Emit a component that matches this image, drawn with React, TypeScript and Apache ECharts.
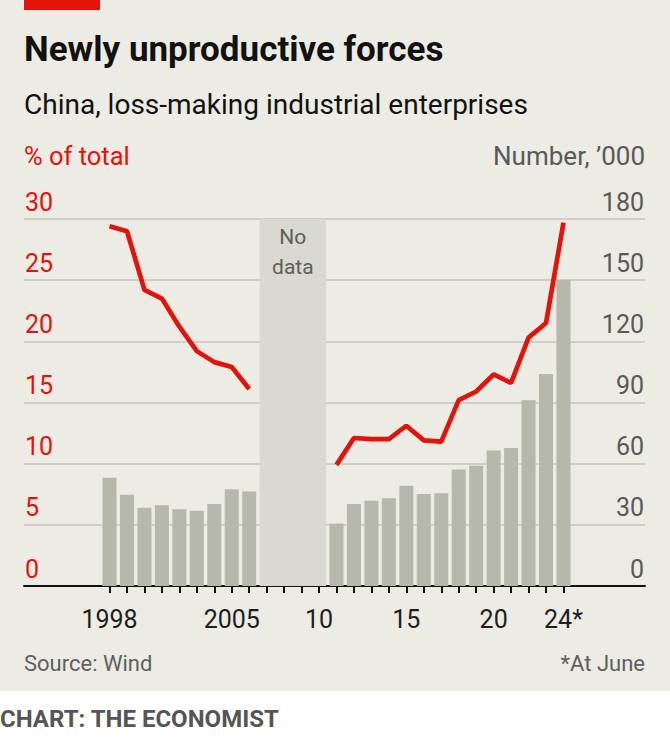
import React, { useEffect, useRef } from "react";
import * as echarts from "echarts";

const years = [
  "1998", "1999", "2000", "2001", "2002", "2003", "2004", "2005", "2006",
  "2007", "2008", "2009", "2010", "2011", "2012", "2013", "2014", "2015",
  "2016", "2017", "2018", "2019", "2020", "2021", "2022", "2023", "2024",
];
// Number of loss-making enterprises, '000 (right axis)
const lossMakingNumber = [
  53.1, 44.8, 38.4, 39.6, 37.6, 36.9, 40.2, 47.4, 46.4,
  null, null, null, null,
  30.6, 40.2, 41.8, 43.0, 49.2, 45.1, 45.5, 57.2, 59.0, 66.4, 67.7, 91.1, 104.0, 150.1,
];
// % of total (left axis)
const lossMakingShare = [
  29.4, 29.0, 24.2, 23.5, 21.2, 19.2, 18.3, 17.9, 16.1,
  null, null, null, null,
  9.9, 12.1, 12.0, 12.0, 13.1, 11.9, 11.8, 15.2, 15.9, 17.3, 16.6, 20.3, 21.5, 29.7,
];
const noDataRange = ["2007", "2010"];
const labelYears = ["1998", "2005", "2010", "2015", "2020", "2024"];
const labelTexts = ["1998", "2005", "10", "15", "20", "24*"];
const majorTickYears = ["2000", "2005", "2010", "2015", "2020"];

const RED = "#e3120b";
const FONT = "Roboto";
const BAR_W = 14;

export default function App() {
  const ref = useRef<HTMLDivElement>(null);
  useEffect(() => {
    document.body.style.margin = "0";
    const chart = echarts.init(ref.current!, null, { renderer: "svg" });
    const option: any = {
      animation: false,
      backgroundColor: "#ecebe4",
      textStyle: { fontFamily: FONT },
      grid: [
        { left: 24, right: 25, top: 219, bottom: 160 },
        { left: 100.8, width: 471.4, top: 219, bottom: 160 },
      ],
      xAxis: [
        {
          gridIndex: 0, type: "value", min: 0, max: 1,
          axisLine: { show: true, lineStyle: { color: "#121212", width: 2 } },
          axisTick: { show: false }, axisLabel: { show: false }, splitLine: { show: false },
        },
        {
          gridIndex: 1, type: "category", data: years,
          axisLine: { show: false },
          axisTick: { show: true, alignWithLabel: true, interval: 0, length: 7, lineStyle: { color: "#121212", width: 2 } },
          axisLabel: {
            interval: (i: number, v: string) => labelYears.includes(v),
            formatter: (v: string) => labelTexts[labelYears.indexOf(v)] ?? "",
            fontSize: 25, color: "#1e1e1e", margin: 21, fontFamily: FONT,
          },
          splitLine: { show: false },
        },
        {
          gridIndex: 1, type: "category", data: years,
          axisLine: { show: false },
          axisTick: {
            show: true, alignWithLabel: true,
            interval: (i: number, v: string) => majorTickYears.includes(v),
            length: 12, lineStyle: { color: "#121212", width: 2 },
          },
          axisLabel: { show: false }, splitLine: { show: false },
        },
      ],
      yAxis: [
        {
          gridIndex: 0, type: "value", position: "left", min: 0, max: 30, interval: 5,
          axisLine: { show: false }, axisTick: { show: false },
          splitLine: { show: true, lineStyle: { color: "#c6c6be", width: 1.5 } },
          axisLabel: {
            inside: true, margin: 1, align: "left", verticalAlign: "bottom", lineHeight: 34,
            fontSize: 25, color: RED, fontFamily: FONT,
          },
        },
        {
          gridIndex: 0, type: "value", position: "right", min: 0, max: 180, interval: 30,
          axisLine: { show: false }, axisTick: { show: false }, splitLine: { show: false },
          axisLabel: {
            inside: true, margin: 1, align: "right", verticalAlign: "bottom", lineHeight: 34,
            fontSize: 25, color: "#595959", fontFamily: FONT,
          },
        },
        { gridIndex: 1, type: "value", min: 0, max: 30, show: false },
        { gridIndex: 1, type: "value", min: 0, max: 180, show: false },
      ],
      series: [
        {
          type: "custom", xAxisIndex: 1, yAxisIndex: 2, silent: true, z: 1,
          data: [[noDataRange[0], 30]],
          renderItem: (params: any, api: any) => {
            const p0 = api.coord([noDataRange[0], 30]);
            const p1 = api.coord([noDataRange[1], 0]);
            const x0 = p0[0] - BAR_W / 2;
            const x1 = p1[0] + BAR_W / 2;
            return {
              type: "group",
              children: [
                {
                  type: "rect",
                  shape: { x: x0, y: p0[1], width: x1 - x0, height: p1[1] - p0[1] },
                  style: { fill: "#d9d9d2" },
                },
                {
                  type: "text",
                  x: (x0 + x1) / 2, y: p0[1] + 3,
                  style: {
                    text: "No\ndata", fill: "#5e5e5e", font: `21px ${FONT}`,
                    lineHeight: 30, align: "center", verticalAlign: "top",
                  },
                },
              ],
            };
          },
        },
        {
          type: "bar", xAxisIndex: 1, yAxisIndex: 3, data: lossMakingNumber,
          barWidth: BAR_W, itemStyle: { color: "#b7b8ac" }, z: 2,
        },
        {
          type: "line", xAxisIndex: 1, yAxisIndex: 2, data: lossMakingShare,
          symbol: "none", connectNulls: false, z: 4,
          lineStyle: { color: RED, width: 4.7 },
        },
      ],
      graphic: [
        { type: "rect", shape: { x: 0, y: 691, width: 670, height: 55 }, style: { fill: "#ffffff" } },
        { type: "rect", shape: { x: 24, y: 0, width: 76, height: 10 }, style: { fill: RED } },
        {
          type: "text", x: 24, y: 49.5,
          style: { text: "Newly unproductive forces", font: `bold 35px ${FONT}`, fill: "#121212", verticalAlign: "middle" },
        },
        {
          type: "text", x: 24, y: 104.8,
          style: { text: "China, loss-making industrial enterprises", font: `28px ${FONT}`, fill: "#121212", verticalAlign: "middle" },
        },
        {
          type: "text", x: 24, y: 155.8,
          style: { text: "% of total", font: `25.5px ${FONT}`, fill: RED, verticalAlign: "middle" },
        },
        {
          type: "text", x: 645, y: 155.8,
          style: { text: "Number, \u2019000", font: `26px ${FONT}`, fill: "#595959", align: "right", verticalAlign: "middle" },
        },
        {
          type: "text", x: 24, y: 663.5,
          style: { text: "Source: Wind", font: `22px ${FONT}`, fill: "#5f5f5f", verticalAlign: "middle" },
        },
        {
          type: "text", x: 645, y: 663.5,
          style: { text: "*At June", font: `22px ${FONT}`, fill: "#5f5f5f", align: "right", verticalAlign: "middle" },
        },
        {
          type: "text", x: 0, y: 719,
          style: { text: "CHART: THE ECONOMIST", font: `bold 24px ${FONT}`, fill: "#555555", verticalAlign: "middle" },
        },
      ],
    };
    chart.setOption(option);
    return () => chart.dispose();
  }, []);
  return <div ref={ref} style={{ width: 670, height: 746 }} />;
}
